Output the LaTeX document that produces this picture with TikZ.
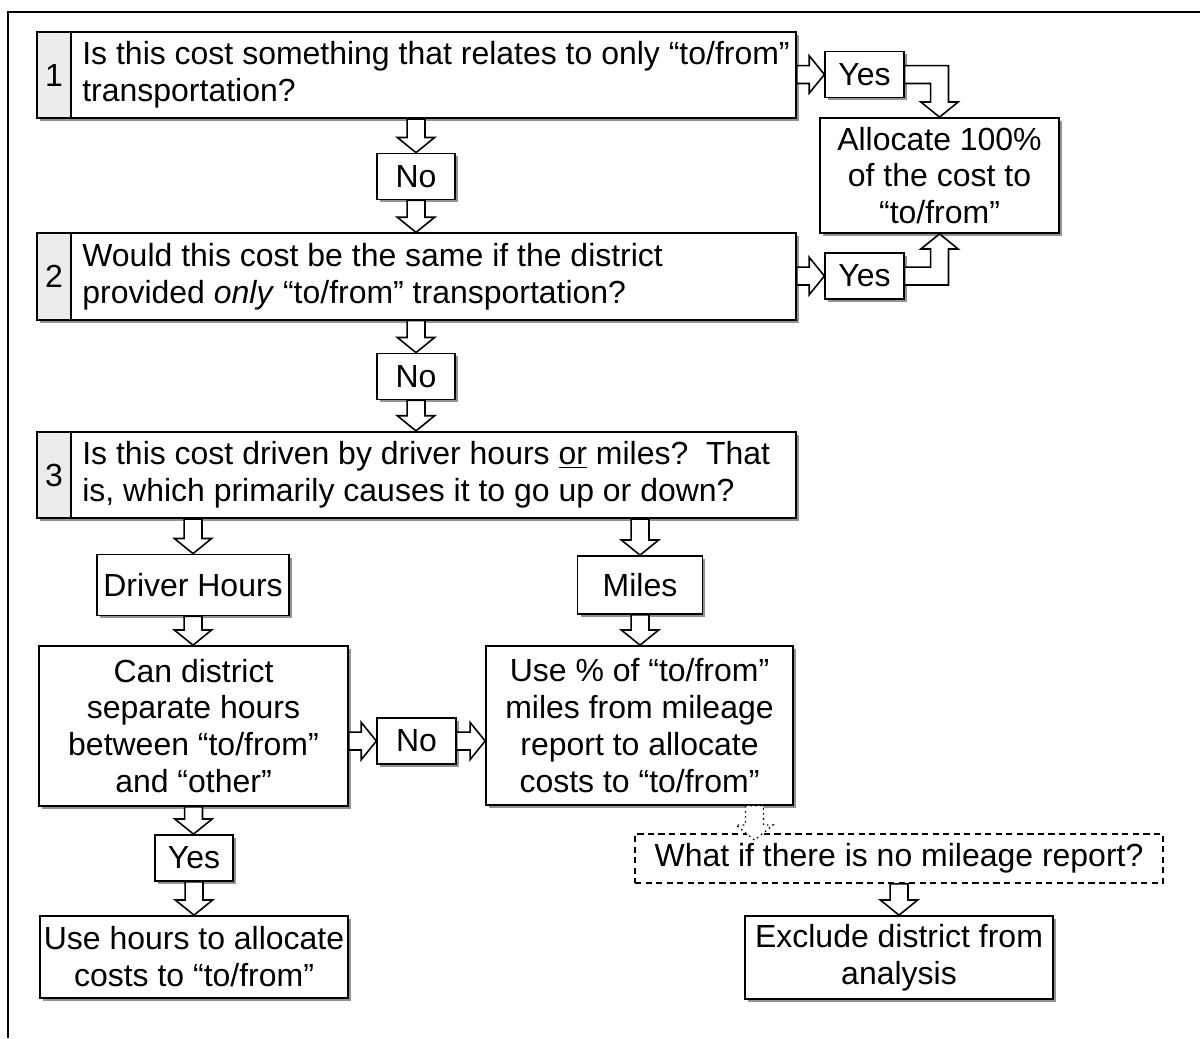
\documentclass[tikz,border=0pt]{standalone}
\usepackage{fontspec}
\setmainfont{Liberation Sans}
\usetikzlibrary{calc,shadows}

\tikzset{
  box/.style={draw, line width=1pt, fill=white, align=center, inner sep=2pt,
    drop shadow={shadow xshift=1.7pt, shadow yshift=-1.7pt, fill=gray!85, opacity=1}},
  numcell/.style={box, fill=gray!15, minimum width=0.68cm, minimum height=1.73cm},
  qbox/.style={box, minimum width=14.5cm, minimum height=1.73cm},
  qtext/.style={anchor=west, align=left, inner sep=0pt},
  answer/.style={box, minimum width=1.57cm, minimum height=0.92cm},
  dashbox/.style={draw, line width=1pt, fill=white, dash pattern=on 3.5pt off 2.5pt,
    minimum width=10.56cm, minimum height=0.98cm},
  barrow/.style={draw, line width=0.9pt, fill=white, line join=miter},
}
% block arrow sizes: shaft half width, head half width, head length
\def\sw{5.1pt}\def\hw{10.6pt}\def\hl{8.6pt}
\newcommand{\downarr}[3][]{%
  \draw[barrow,#1] let \p1=#2, \p2=#3 in
    (\x1-\sw,\y1) -- (\x1-\sw,\y2+\hl) -- (\x1-\hw,\y2+\hl) -- (\x1,\y2)
    -- (\x1+\hw,\y2+\hl) -- (\x1+\sw,\y2+\hl) -- (\x1+\sw,\y1) -- cycle;}
\newcommand{\rightarr}[2]{%
  \draw[barrow] let \p1=#1, \p2=#2 in
    (\x1,\y1+\sw) -- (\x2-\hl,\y1+\sw) -- (\x2-\hl,\y1+\hw) -- (\x2,\y1)
    -- (\x2-\hl,\y1-\hw) -- (\x2-\hl,\y1-\sw) -- (\x1,\y1-\sw) -- cycle;}
% #3 = 1 turns down, -1 turns up
\newcommand{\elbowarr}[3]{%
  \draw[barrow] let \p1=#1, \p2=#2 in
    ({\x1},{\y1+#3*\sw}) -- ({\x2+\sw},{\y1+#3*\sw}) -- ({\x2+\sw},{\y2+#3*\hl})
    -- ({\x2+\hw},{\y2+#3*\hl}) -- (\x2,\y2) -- ({\x2-\hw},{\y2+#3*\hl})
    -- ({\x2-\sw},{\y2+#3*\hl}) -- ({\x2-\sw},{\y1-#3*\sw}) -- ({\x1},{\y1-#3*\sw}) -- cycle;}

\begin{document}
\begin{tikzpicture}[x=0.02cm, y=-0.02cm, font=\fontsize{18.2}{21}\selectfont]
  \useasboundingbox (0,0) rectangle (1200,1038);
  \draw[line width=1pt] (8,1038) -- (8,12) -- (1200,12);

  % the three questions
  \foreach \n/\y/\txt in {
      1/75/{Is this cost something that relates to only “to/from”\\transportation?},
      2/276.5/{Would this cost be the same if the district\\provided \textit{only} “to/from” transportation?},
      3/475/{Is this cost driven by driver hours \underline{or} miles?\ \ That\\is, which primarily causes it to go up or down?}} {
    \node[numcell] (n\n) at (54,\y) {\n};
    \node[qbox] (q\n) at (433.5,\y) {};
    \node[qtext] (t\n) at (82,\y) {\txt};
  }

  \node[answer] (no1) at (416,176.5) {No};
  \node[answer] (no2) at (416,376.5) {No};
  \node[answer] (yes1) at (864.5,74.5) {Yes};
  \node[answer] (yes2) at (864.5,276) {Yes};
  \node[box, minimum width=4.78cm, minimum height=2.3cm] (alloc) at (939.5,175.5)
    {Allocate 100\%\\of the cost to\\“to/from”};

  \node[box, minimum width=3.84cm, minimum height=1.22cm] (hours) at (193,585) {Driver Hours};
  \node[box, minimum width=2.5cm, minimum height=1.16cm] (miles) at (640,585) {Miles};
  \node[box, minimum width=6.18cm, minimum height=3.2cm] (can) at (193.5,726)
    {Can district\\separate hours\\between “to/from”\\and “other”};
  \node[box, minimum width=6.14cm, minimum height=3.18cm] (pct) at (639.5,725.5)
    {Use \% of “to/from”\\miles from mileage\\report to allocate\\costs to “to/from”};
  \node[answer] (no3) at (416.5,741) {No};
  \node[answer] (yes3) at (194,858) {Yes};
  \node[box, minimum width=6.16cm, minimum height=1.64cm] (usehours) at (194,957)
    {Use hours to allocate\\costs to “to/from”};
  \node[dashbox] (nomiles) at (899,858.5) {What if there is no mileage report?};
  \node[box, minimum width=6.16cm, minimum height=1.66cm] (exclude) at (899,957.5)
    {Exclude district from\\analysis};

  % block arrows
  \downarr{(no1.north |- q1.south)}{(no1.north)}
  \downarr{(no1.south)}{(no1.south |- q2.north)}
  \downarr{(no2.north |- q2.south)}{(no2.north)}
  \downarr{(no2.south)}{(no2.south |- q3.north)}
  \rightarr{(q1.east |- yes1.west)}{(yes1.west)}
  \rightarr{(q2.east |- yes2.west)}{(yes2.west)}
  \elbowarr{(yes1.east)}{(alloc.north)}{1}
  \elbowarr{(yes2.east)}{(alloc.south)}{-1}
  \downarr{(hours.north |- q3.south)}{(hours.north)}
  \downarr{(miles.north |- q3.south)}{(miles.north)}
  \downarr{(hours.south)}{(hours.south |- can.north)}
  \downarr{(miles.south)}{(miles.south |- pct.north)}
  \rightarr{(can.east |- no3.west)}{(no3.west)}
  \rightarr{(no3.east)}{(pct.west |- no3.east)}
  \downarr{(can.south)}{(yes3.north)}
  \downarr{(yes3.south)}{(usehours.north)}
  \coordinate (dtop) at ([xshift=2.3cm]pct.south);
  \coordinate (dtip) at ($(dtop |- nomiles.north)+(0cm,-0.14cm)$);
  \downarr[dotted, line width=0.7pt]{(dtop)}{(dtip)}
  \downarr{(nomiles.south)}{(exclude.north)}
\end{tikzpicture}
\end{document}
